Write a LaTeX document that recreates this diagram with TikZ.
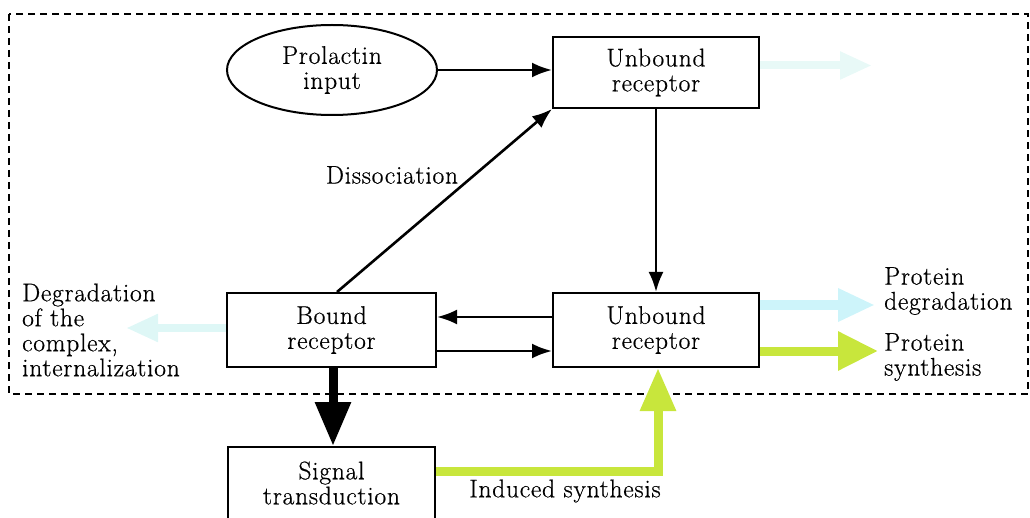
\documentclass[tikz,border=0pt]{standalone}
\usepackage{fontspec}
\setmainfont{Latin Modern Roman}[FakeBold=0.6,LetterSpace=3]
\usetikzlibrary{arrows.meta,shapes.geometric,calc}
\definecolor{lime}{RGB}{200,230,60}
\definecolor{paleblue}{RGB}{205,244,250}
\definecolor{faintA}{RGB}{232,249,247}
\definecolor{faintB}{RGB}{222,247,246}
\tikzset{
  txt/.style={font=\fontsize{25.5}{25}\selectfont, inner sep=0pt, align=center},
  box/.style={txt, draw, line width=2pt, rectangle},
  arr/.style={line width=2.6pt, -{Latex[length=20pt,width=15pt]}},
  fat/.style={line width=9pt, -{Triangle[length=44pt,width=34pt]}},
  lbl/.style={txt, align=left, anchor=west}
}
\begin{document}
\begin{tikzpicture}[x=1pt,y=-1pt]
\useasboundingbox (0,0) rectangle (1030,518);
\node[box, ellipse, minimum width=210pt, minimum height=90pt] (pro) at (332,70) {Prolactin\\input};
\node[box, minimum width=206pt, minimum height=71pt] (ub1) at (656,72.5) {Unbound\\receptor};
\node[box, minimum width=209pt, minimum height=74pt] (br) at (331.5,330) {Bound\\receptor};
\node[box, minimum width=206pt, minimum height=74pt] (ub2) at (656,330) {Unbound\\receptor};
\node[box, minimum width=207pt, minimum height=72pt] (sig) at (331.5,483) {Signal\\transduction};
\node[txt] (dis) at (392,175) {Dissociation};
\node[txt] (ind) at (565,491) {Induced synthesis};
\node[lbl] (deg) at (22,330) {Degradation\\of the\\complex,\\internalization};
\node[lbl] (pdeg) at (884,291) {Protein\\degradation};
\node[lbl] (psyn) at (884,357) {Protein\\synthesis};
% frame
\draw[line width=2.4pt, dash pattern=on 7pt off 5pt] (9,14) rectangle (1028,394);
% faint arrows
\draw[line width=8pt, draw=faintA, -{Triangle[length=32pt,width=26pt,color=faintA]}] ([yshift=7pt]ub1.east) -- ++(112,0) coordinate (fa);
\draw[line width=8pt, draw=faintB, -{Triangle[length=32pt,width=26pt,color=faintB]}] ([yshift=2pt]br.west) -- ++(-100,0) coordinate (fb);
% coloured arrows
\draw[line width=10pt, draw=paleblue, -{Triangle[length=37pt,width=31pt,color=paleblue]}] ([yshift=25pt]ub2.east) -- ++(115,0) coordinate (pa);
\draw[line width=9pt, draw=lime, -{Triangle[length=40pt,width=37pt,color=lime]}] ([yshift=-21pt]ub2.east) -- ++(118,0) coordinate (pb);
\draw[line width=9pt, draw=lime, -{Triangle[length=43pt,width=34pt,color=lime]}] ([yshift=12pt]sig.east) -| ([xshift=2pt]ub2.south);
% black arrows
\draw[arr] (pro.east) -- (pro.east -| ub1.west);
\draw[arr] (ub1.south) -- (ub2.north);
\draw[arr] ([xshift=5.5pt]br.north) -- (ub1.south west);
\draw[arr] ([yshift=13pt]ub2.west) -- ([yshift=13pt]br.east);
\draw[arr] ([yshift=-21pt]br.east) -- ([yshift=-21pt]ub2.west);
\draw[fat] ([xshift=1.5pt]br.south) -- ([xshift=1.5pt]sig.north);
\end{tikzpicture}
\end{document}
